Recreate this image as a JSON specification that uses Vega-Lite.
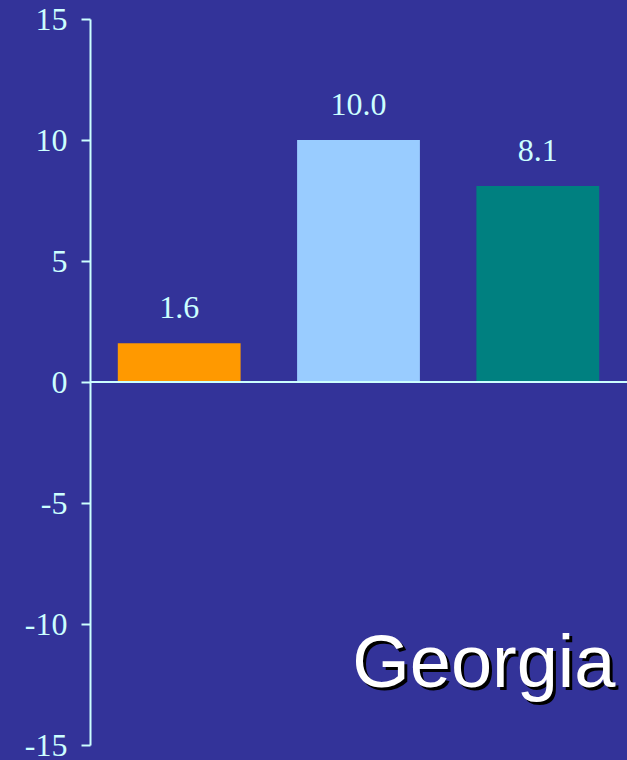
{
  "$schema": "https://vega.github.io/schema/vega-lite/v6.json",
  "autosize": "none",
  "width": 537,
  "height": 726,
  "padding": {"left": 90, "top": 19, "right": 0, "bottom": 15},
  "background": "#333399",
  "config": {"view": {"stroke": null}},
  "data": {"values": [
    {"series": "A", "value": 1.6, "label": "1.6"},
    {"series": "B", "value": 10.0, "label": "10.0"},
    {"series": "C", "value": 8.1, "label": "8.1"}
  ]},
  "layer": [
    {
      "mark": {"type": "bar"},
      "encoding": {
        "x": {"field": "series", "type": "nominal", "axis": null,
              "scale": {"paddingInner": 0.315, "paddingOuter": 0.155}},
        "y": {"field": "value", "type": "quantitative",
              "scale": {"domain": [-15, 15], "nice": false, "zero": false},
              "axis": {"title": null, "values": [-15, -10, -5, 0, 5, 10, 15],
                       "labelExpr": "'' + datum.value",
                       "domainColor": "#CCFFFF", "domainWidth": 2,
                       "tickColor": "#CCFFFF", "tickWidth": 2, "tickSize": 9,
                       "labelColor": "#CCFFFF", "labelFont": "Liberation Serif",
                       "labelFontSize": 32, "labelPadding": 14, "grid": false,
                       "labelFlush": false}},
        "color": {"field": "series", "type": "nominal", "legend": null,
                  "scale": {"domain": ["A", "B", "C"], "range": ["#FF9900", "#99CCFF", "#008080"]}}
      }
    },
    {
      "mark": {"type": "text", "font": "Liberation Serif", "fontSize": 32, "color": "#CCFFFF",
               "baseline": "alphabetic", "dy": -25},
      "encoding": {
        "x": {"field": "series", "type": "nominal"},
        "y": {"field": "value", "type": "quantitative"},
        "text": {"field": "label"}
      }
    },
    {
      "mark": {"type": "rule", "color": "#CCFFFF", "strokeWidth": 2},
      "encoding": {"y": {"datum": 0}}
    },
    {
      "data": {"values": [{"state": "Georgia"}]},
      "mark": {"type": "text", "font": "Liberation Sans", "fontSize": 74, "color": "#000000",
               "align": "center", "baseline": "alphabetic", "dx": -51, "dy": 3},
      "encoding": {
        "x": {"datum": "C"},
        "y": {"datum": -12.6},
        "text": {"field": "state"}
      }
    },
    {
      "data": {"values": [{"state": "Georgia"}]},
      "mark": {"type": "text", "font": "Liberation Sans", "fontSize": 74, "color": "#FFFFFF",
               "align": "center", "baseline": "alphabetic", "dx": -54},
      "encoding": {
        "x": {"datum": "C"},
        "y": {"datum": -12.6},
        "text": {"field": "state"}
      }
    }
  ]
}
